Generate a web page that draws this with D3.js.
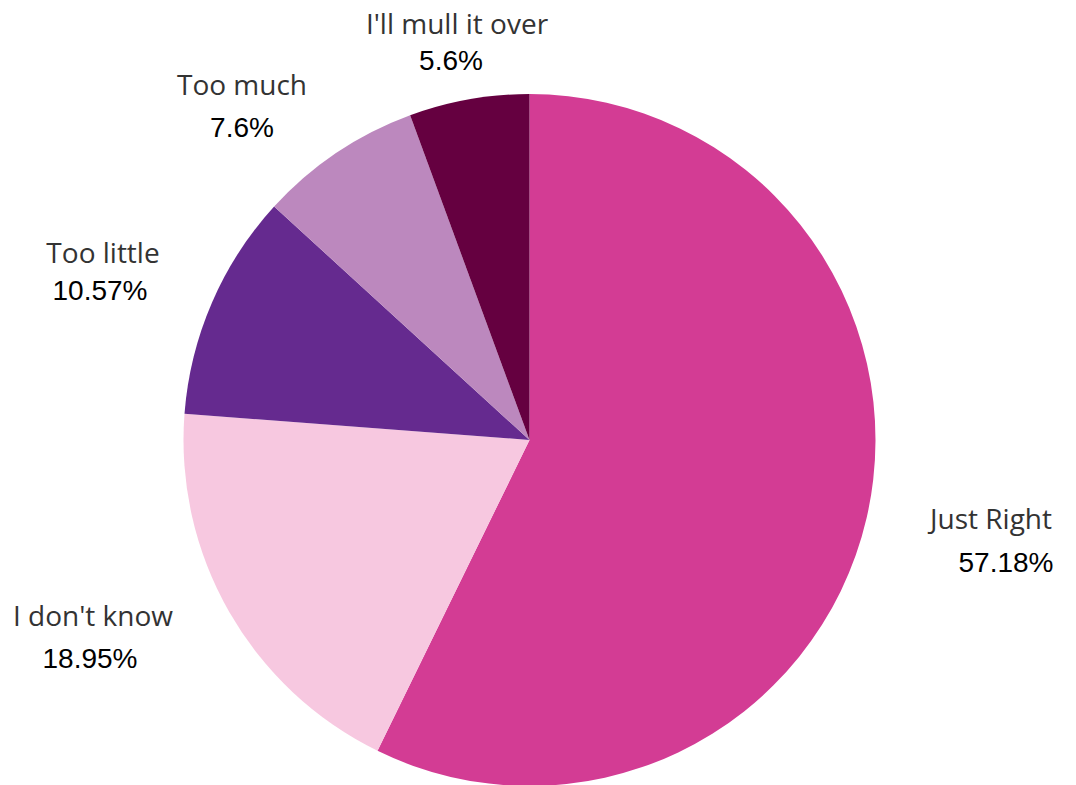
<!DOCTYPE html>
<html><head><meta charset="utf-8">
<script src="https://cdn.jsdelivr.net/npm/d3@7"></script>
<style>body{margin:0;background:#fff}svg{display:block}</style>
</head><body>
<svg id="c" width="1076" height="785"></svg>
<script>
const categories = ["Just Right", "I don't know", "Too little", "Too much", "I'll mull it over"];
const values = [57.18, 18.95, 10.57, 7.6, 5.6];
const valueLabels = ["57.18%", "18.95%", "10.57%", "7.6%", "5.6%"];
const colors = ["#D33C94", "#F7C8E0", "#652A8F", "#BC88BE", "#650040"];

// label layout (name center x, name baseline y, value center x, value baseline y)
const labelPos = [
  [991, 529, 1006, 572],
  [93, 626, 90, 668],
  [103, 263, 100, 300],
  [242, 95, 242, 137],
  [457, 34, 451, 70]
];

const svg = d3.select("#c");
const cx = 529.5, cy = 440, r = 346;
const g = svg.append("g").attr("transform", `translate(${cx},${cy})`);
const pie = d3.pie().sort(null).value(d => d)(values);
const arc = d3.arc().innerRadius(0).outerRadius(r);
g.selectAll("path").data(pie).join("path")
  .attr("d", arc).attr("fill", (d, i) => colors[i]);

const lg = svg.append("g");
categories.forEach((c, i) => {
  const p = labelPos[i];
  lg.append("text").attr("x", p[0]).attr("y", p[1]).attr("text-anchor", "middle")
    .attr("font-family", "'Open Sans', sans-serif").attr("font-size", 28).attr("fill", "#333")
    .text(c);
  lg.append("text").attr("x", p[2]).attr("y", p[3]).attr("text-anchor", "middle")
    .attr("font-family", "'Liberation Sans', Arial, sans-serif").attr("font-size", 28).attr("fill", "#000")
    .text(valueLabels[i]);
});
</script>
</body></html>
